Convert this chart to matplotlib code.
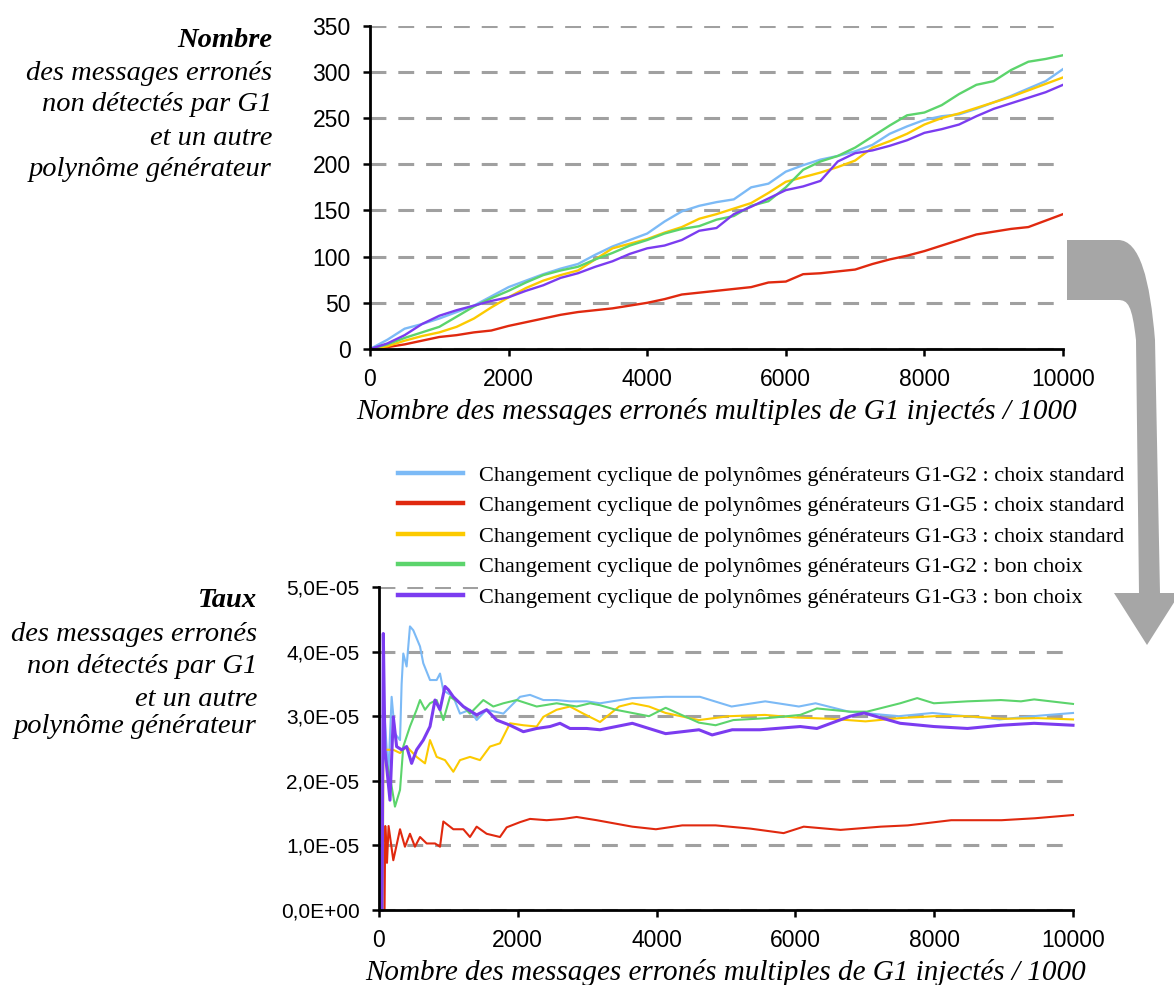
import matplotlib
matplotlib.use("Agg")
import matplotlib.pyplot as plt
from matplotlib.lines import Line2D
from matplotlib.path import Path
from matplotlib.patches import PathPatch

W, H = 1174, 985

# ---------------- data: top chart (count of undetected messages) ----------------
x_top = [0, 250, 500, 750, 1000, 1250, 1500, 1750, 2000, 2250, 2500, 2750, 3000,
         3250, 3500, 3750, 4000, 4250, 4500, 4750, 5000, 5250, 5500, 5750, 6000,
         6250, 6500, 6750, 7000, 7250, 7500, 7750, 8000, 8250, 8500, 8750, 9000,
         9250, 9500, 9750, 10000]
cnt_g2_std = [0, 10, 22, 27, 33, 40, 47, 57, 67, 74, 81, 87, 92, 102, 111, 118, 125,
              138, 149, 155, 159, 162, 175, 179, 192, 199, 205, 209, 214, 221, 233,
              241, 248, 252, 254, 260, 267, 274, 282, 290, 303]
cnt_g5_std = [0, 2, 5, 9, 13, 15, 18, 20, 25, 29, 33, 37, 40, 42, 44, 47, 50, 54, 59,
              61, 63, 65, 67, 72, 73, 81, 82, 84, 86, 92, 97, 101, 106, 112, 118, 124,
              127, 130, 132, 139, 146]
cnt_g3_std = [0, 3, 9, 14, 18, 24, 33, 45, 56, 66, 74, 80, 85, 97, 109, 114, 119, 126,
              132, 141, 146, 152, 158, 169, 181, 186, 191, 197, 204, 218, 225, 233, 243,
              250, 255, 261, 267, 273, 280, 287, 294]
cnt_g2_bon = [0, 5, 12, 18, 24, 35, 46, 55, 63, 72, 80, 85, 89, 97, 104, 112, 118, 125,
              130, 133, 140, 144, 155, 160, 175, 194, 203, 209, 218, 230, 242, 253, 256,
              264, 276, 286, 290, 302, 311, 314, 318]
cnt_g3_bon = [0, 6, 15, 27, 36, 42, 47, 52, 56, 63, 69, 77, 82, 89, 95, 103, 109, 112,
              118, 128, 131, 146, 154, 163, 172, 176, 182, 203, 212, 215, 220, 226, 234,
              238, 243, 252, 260, 266, 272, 278, 286]

# ---------------- data: bottom chart (rate, in units of 1E-05) ----------------
x_r_g2_std = [40, 62, 135, 182, 230, 303, 326, 350, 398, 446, 494, 591, 638, 735, 831,
              879, 927, 1071, 1167, 1311, 1407, 1551, 1792, 2032, 2176, 2368, 2560, 2752,
              2993, 3185, 3650, 4130, 4625, 5080, 5565, 6050, 6290, 6770, 7490, 7975,
              8940, 9420, 10000]
r_g2_std = [0, 3.3, 2.1, 3.3, 2.73, 2.63, 3.5, 3.97, 3.77, 4.39, 4.33, 4.08, 3.82, 3.56,
            3.56, 3.66, 3.4, 3.3, 3.04, 3.1, 2.94, 3.1, 3.04, 3.3, 3.33, 3.25, 3.25,
            3.23, 3.23, 3.2, 3.28, 3.3, 3.3, 3.15, 3.23, 3.15, 3.2, 3.07, 3.0, 3.05,
            2.95, 3.0, 3.05]

x_r_g5_std = [80, 90, 115, 138, 206, 303, 374, 446, 518, 591, 687, 807, 879, 927, 1071,
              1215, 1311, 1407, 1551, 1743, 1840, 2032, 2176, 2416, 2656, 2848, 3137,
              3650, 3990, 4370, 4850, 5350, 5830, 6120, 6650, 7230, 7620, 8245, 8970,
              9450, 10000]
r_g5_std = [0, 1.3, 0.73, 1.3, 0.77, 1.25, 0.98, 1.18, 0.98, 1.13, 1.03, 1.03, 0.98,
            1.37, 1.25, 1.25, 1.13, 1.29, 1.18, 1.13, 1.28, 1.36, 1.41, 1.39, 1.41,
            1.44, 1.39, 1.29, 1.25, 1.31, 1.31, 1.26, 1.19, 1.29, 1.24, 1.29, 1.31,
            1.39, 1.39, 1.42, 1.47]

x_r_g3_std = [55, 62, 206, 303, 398, 542, 663, 735, 831, 951, 1071, 1167, 1311, 1455,
              1599, 1743, 1888, 2080, 2272, 2368, 2560, 2752, 2944, 3185, 3460, 3650,
              3890, 4130, 4610, 5040, 5560, 6000, 6500, 7010, 7500, 8000, 8460, 9000,
              9500, 10000]
r_g3_std = [0, 2.48, 2.48, 2.43, 2.53, 2.37, 2.27, 2.63, 2.37, 2.32, 2.14, 2.32, 2.37,
            2.32, 2.53, 2.58, 2.89, 2.86, 2.84, 2.99, 3.1, 3.15, 3.04, 2.91, 3.15, 3.2,
            3.15, 3.05, 2.94, 3.0, 3.02, 2.98, 2.96, 2.92, 2.97, 3.0, 3.0, 2.96, 2.97,
            2.95]

x_r_g2_bon = [40, 60, 158, 230, 303, 350, 446, 542, 591, 663, 735, 831, 927, 1023, 1167,
              1311, 1503, 1647, 1792, 1984, 2272, 2560, 2848, 3041, 3185, 3410, 3650,
              3890, 4130, 4610, 4850, 5105, 5590, 6070, 6310, 6790, 7030, 7510, 7755,
              7995, 8480, 8960, 9250, 9440, 10000]
r_g2_bon = [0, 2.5, 2.07, 1.6, 1.86, 2.53, 2.84, 3.1, 3.25, 3.1, 3.2, 3.25, 2.94, 3.3,
            3.2, 3.04, 3.25, 3.15, 3.2, 3.25, 3.15, 3.2, 3.15, 3.2, 3.17, 3.1, 3.05, 3.0,
            3.13, 2.9, 2.86, 2.94, 2.97, 3.02, 3.12, 3.07, 3.07, 3.2, 3.28, 3.2, 3.23,
            3.25, 3.23, 3.26, 3.19]

x_r_g3_bon = [45, 62, 86, 158, 206, 254, 326, 398, 470, 542, 638, 735, 807, 879, 951,
              999, 1071, 1215, 1407, 1551, 1696, 1888, 2080, 2272, 2464, 2608, 2752,
              2993, 3185, 3650, 4130, 4610, 4800, 5090, 5490, 6070, 6310, 6790, 6990,
              7510, 7995, 8480, 8960, 9440, 10000]
r_g3_bon = [0, 4.28, 2.48, 1.7, 2.99, 2.53, 2.48, 2.53, 2.27, 2.48, 2.63, 2.84, 3.25,
            3.1, 3.46, 3.41, 3.3, 3.15, 3.02, 3.1, 2.94, 2.86, 2.76, 2.81, 2.84, 2.89,
            2.81, 2.81, 2.79, 2.89, 2.73, 2.79, 2.71, 2.79, 2.79, 2.84, 2.81, 3.0, 3.05,
            2.89, 2.84, 2.81, 2.86, 2.89, 2.86]

series_labels = [
    "Changement cyclique de polynômes générateurs G1-G2 : choix standard",
    "Changement cyclique de polynômes générateurs G1-G5 : choix standard",
    "Changement cyclique de polynômes générateurs G1-G3 : choix standard",
    "Changement cyclique de polynômes générateurs G1-G2 : bon choix",
    "Changement cyclique de polynômes générateurs G1-G3 : bon choix",
]
colors = ["#7cbaf6", "#e0290f", "#fcca00", "#5cd46c", "#7b3cf0"]

top_yticks = [0, 50, 100, 150, 200, 250, 300, 350]
bot_yticks = [0, 1, 2, 3, 4, 5]
bot_yticklabels = ["0,0E+00", "1,0E-05", "2,0E-05", "3,0E-05", "4,0E-05", "5,0E-05"]
xticks = [0, 2000, 4000, 6000, 8000, 10000]
xlabel = "Nombre des messages erronés multiples de G1 injectés / 1000"

# ---------------- figure ----------------
plt.rcParams["font.family"] = ["Liberation Sans", "DejaVu Sans"]
fig = plt.figure(figsize=(W / 100, H / 100), dpi=100)
serif = ["Liberation Serif", "DejaVu Serif"]

def fx(px):
    return px / W

def fy(py):
    return 1 - py / H

ax1 = fig.add_axes([fx(370), fy(349), fx(1063) - fx(370), fy(25.7) - fy(349)])
ax2 = fig.add_axes([fx(379), fy(910), fx(1073) - fx(379), fy(587) - fy(910)])

def style(ax, ylabsize):
    ax.set_xlim(0, 10000)
    ax.margins(x=0)
    for s in ("top", "right"):
        ax.spines[s].set_visible(False)
    for s in ("left", "bottom"):
        ax.spines[s].set_linewidth(2.0)
        ax.spines[s].set_color("black")
    ax.set_axisbelow(True)
    ax.yaxis.grid(True, color="#a0a0a0", linewidth=2.2, linestyle=(0, (5.2, 3.9)))
    ax.xaxis.grid(False)
    ax.tick_params(axis="both", direction="out", length=5, width=1.8, colors="black")
    ax.tick_params(axis="x", pad=9, labelsize=16.5)
    ax.tick_params(axis="y", pad=9, labelsize=ylabsize)
    ax.set_xticks(xticks)
    ax.set_xticklabels([str(t) for t in xticks])
    ax.set_xlabel(xlabel, family=serif, style="italic", fontsize=21, labelpad=5)

style(ax1, 16.5)
ax1.set_ylim(0, 350)
ax1.set_yticks(top_yticks)
top_series = [cnt_g2_std, cnt_g5_std, cnt_g3_std, cnt_g2_bon, cnt_g3_bon]
for ys, c in zip(top_series, colors):
    ax1.plot(x_top, ys, color=c, linewidth=1.7, solid_joinstyle="round")

style(ax2, 15)
ax2.set_ylim(0, 5)
ax2.set_yticks(bot_yticks)
ax2.set_yticklabels(bot_yticklabels)
bot_series = [(x_r_g2_std, r_g2_std), (x_r_g5_std, r_g5_std), (x_r_g3_std, r_g3_std),
              (x_r_g2_bon, r_g2_bon), (x_r_g3_bon, r_g3_bon)]
widths = [1.5, 1.5, 1.5, 1.5, 2.2]
for (xs, ys), c, lw in zip(bot_series, colors, widths):
    ax2.plot(xs, ys, color=c, linewidth=lw, solid_joinstyle="round", clip_on=False)

# ---------------- legend ----------------
handles = [Line2D([], [], color=c, linewidth=3.2) for c in colors]
fs_leg = 16
fs_px = fs_leg * 100 / 72
leg = fig.legend(handles, series_labels, loc="upper left",
                 bbox_to_anchor=(fx(398), fy(465)), frameon=False,
                 prop={"family": serif, "size": fs_leg},
                 handlelength=65 / fs_px, handletextpad=16 / fs_px,
                 labelspacing=0.45, borderpad=0, borderaxespad=0)
for t in leg.get_texts():
    t.set_bbox(dict(facecolor="white", edgecolor="none", pad=1))

# ---------------- left titles ----------------
top_lines = [("Nombre", "bold", 47), ("des messages erronés", "normal", 80),
             ("non détectés par G1", "normal", 111), ("et un autre", "normal", 145),
             ("polynôme générateur", "normal", 176)]
for txt, wt, yb in top_lines:
    fig.text(fx(272), fy(yb), txt, ha="right", va="baseline", family=serif,
             style="italic", weight=wt, fontsize=20.5)
bot_lines = [("Taux", "bold", 607), ("des messages erronés", "normal", 641),
             ("non détectés par G1", "normal", 673), ("et un autre", "normal", 706),
             ("polynôme générateur", "normal", 733)]
for txt, wt, yb in bot_lines:
    fig.text(fx(257), fy(yb), txt, ha="right", va="baseline", family=serif,
             style="italic", weight=wt, fontsize=20.5)

# ---------------- curved gray arrow (decoration) ----------------
pts = [(1067, 240), (1118, 240), (1140, 240), (1150, 280), (1155, 340), (1160, 593),
       (1180, 593), (1147, 645), (1114, 593), (1139, 593), (1136, 340), (1132, 305),
       (1128, 300), (1118, 300), (1067, 300), (1067, 240)]
codes = [Path.MOVETO, Path.LINETO, Path.CURVE4, Path.CURVE4, Path.CURVE4, Path.LINETO,
         Path.LINETO, Path.LINETO, Path.LINETO, Path.LINETO, Path.LINETO, Path.CURVE4,
         Path.CURVE4, Path.CURVE4, Path.LINETO, Path.CLOSEPOLY]
path = Path([(fx(a), fy(b)) for a, b in pts], codes)
fig.patches.append(PathPatch(path, transform=fig.transFigure, facecolor="#a6a6a6",
                             edgecolor="none", zorder=0))

fig.savefig("out.png", dpi=100)
